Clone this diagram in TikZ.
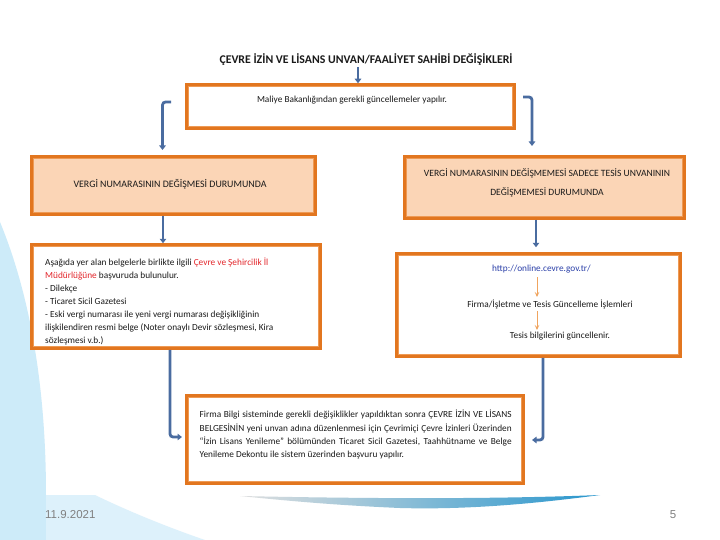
\documentclass[tikz,border=0pt]{standalone}
\usepackage{fontspec}
\setmainfont{Carlito}
\newfontfamily\footfont{Liberation Sans}
\usetikzlibrary{arrows.meta}
\definecolor{boxorange}{HTML}{E2761F}
\definecolor{innerorange}{HTML}{EE9A55}
\definecolor{peach}{HTML}{FBD5B6}
\definecolor{arrblue}{HTML}{4A6CA0}
\definecolor{smallorange}{HTML}{F0A45E}
\definecolor{redtext}{HTML}{E3262B}
\definecolor{linkblue}{HTML}{2A3FA8}
\definecolor{bgblue}{HTML}{CDEBF9}
\definecolor{bgbluelight}{HTML}{DDF1FB}
\definecolor{foot}{HTML}{808080}
\definecolor{txt}{HTML}{1A1A1A}
\begin{document}
\begin{tikzpicture}[x=1pt,y=-1pt,
  obox/.style={draw=boxorange, line width=2.5pt, fill=white, inner sep=0pt},
  innerframe/.style={draw=innerorange, line width=0.8pt},
  barrow/.style={draw=arrblue, line width=2.8pt, -{Triangle[width=6.5pt,length=4.5pt]}, rounded corners=3pt},
  sarrow/.style={draw=smallorange, line width=0.8pt, -{Stealth[width=4.5pt,length=5pt,inset=2pt]}},
  smalltxt/.style={font=\fontsize{9.3}{11}\selectfont, text=txt, inner sep=0pt},
]
\useasboundingbox (0,0) rectangle (720,540);
% background
\fill[white] (0,0) rectangle (720,540);
\fill[bgblue] (0,222) .. controls (28,290) and (46,380) .. (46,495) -- (46,540) -- (0,540) -- cycle;
\fill[bgbluelight] (46,495) -- (95,495) .. controls (130,512) and (170,528) .. (205,540) -- (46,540) -- cycle;
\shade[left color=gray!25, right color={rgb,255:red,40;green,150;blue,205}]
  (240,496) .. controls (380,499) and (500,499) .. (600,495)
  .. controls (540,503) and (470,510) .. (400,508)
  .. controls (330,505) and (280,500) .. (240,496) -- cycle;

% title
\node[font=\fontsize{11.8}{13}\selectfont\bfseries, text=txt, inner sep=0pt] (title) at (366,60)
  {ÇEVRE İZİN VE LİSANS UNVAN/FAALİYET SAHİBİ DEĞİŞİKLERİ};

% boxes
\node[obox, minimum width=328pt, minimum height=44pt] (top) at (350.5,106.5) {};
\draw[innerframe] ([shift={(3.5,3.5)}]top.north west) rectangle ([shift={(-3.5,-3.5)}]top.south east);
\node[smalltxt] (toptxt) at (352,100) {Maliye Bakanlığından gerekli güncellemeler yapılır.};

\node[obox, fill=peach, minimum width=284pt, minimum height=58pt] (lb2) at (173.5,185.5) {};
\draw[innerframe] ([shift={(3.5,3.5)}]lb2.north west) rectangle ([shift={(-3.5,-3.5)}]lb2.south east);
\node[smalltxt, font=\fontsize{9.9}{11}\selectfont] (lb2txt) at (170,184) {VERGİ NUMARASININ DEĞİŞMESİ DURUMUNDA};

\node[obox, fill=peach, minimum width=280pt, minimum height=62pt] (rb2) at (544.5,187.5) {};
\draw[innerframe] ([shift={(3.5,3.5)}]rb2.north west) rectangle ([shift={(-3.5,-3.5)}]rb2.south east);
\node[smalltxt, font=\fontsize{9.6}{19}\selectfont, align=center] (rb2txt) at (547,182.5)
  {VERGİ NUMARASININ DEĞİŞMEMESİ SADECE TESİS UNVANININ\\DEĞİŞMEMESİ DURUMUNDA};

\node[obox, minimum width=289pt, minimum height=104pt] (lb3) at (176,296.5) {};
\draw[innerframe] ([shift={(3.5,3.5)}]lb3.north west) rectangle ([shift={(-3.5,-3.5)}]lb3.south east);
\node[smalltxt, font=\fontsize{9.3}{13.1}\selectfont, align=left, anchor=north west] (lb3txt) at (45,257.5)
  {Aşağıda yer alan belgelerle birlikte ilgili \textcolor{redtext}{Çevre ve Şehircilik İl}\\
   \textcolor{redtext}{Müdürlüğüne} başvuruda bulunulur.\\
   - Dilekçe\\
   - Ticaret Sicil Gazetesi\\
   - Eski vergi numarası ile yeni vergi numarası değişikliğinin\\
   ilişkilendiren resmi belge (Noter onaylı Devir sözleşmesi, Kira\\
   sözleşmesi v.b.)};

\node[obox, minimum width=284pt, minimum height=103pt] (rb3) at (538.5,305) {};
\draw[innerframe] ([shift={(3.5,3.5)}]rb3.north west) rectangle ([shift={(-3.5,-3.5)}]rb3.south east);
\node[smalltxt, text=linkblue] (url) at (541.5,269.3) {http://online.cevre.gov.tr/};
\node[smalltxt] (firma) at (550,304) {Firma/İşletme ve Tesis Güncelleme İşlemleri};
\node[smalltxt] (tesis) at (560,336.5) {Tesis bilgilerini güncellenir.};
\coordinate (s1a) at (537,277);
\coordinate (s1b) at (537,297);
\coordinate (s2a) at (537,311);
\coordinate (s2b) at (537,330);
\draw[sarrow] (s1a) -- (s1b);
\draw[sarrow] (s2a) -- (s2b);

\node[obox, minimum width=337pt, minimum height=88pt] (bot) at (355,439.5) {};
\draw[innerframe] ([shift={(3.5,3.5)}]bot.north west) rectangle ([shift={(-3.5,-3.5)}]bot.south east);
\node[smalltxt, font=\fontsize{9.3}{13.4}\selectfont, align=left, anchor=north west] (bottxt) at (199.5,410)
  {\makebox[312pt][s]{Firma Bilgi sisteminde gerekli değişiklikler yapıldıktan sonra ÇEVRE İZİN VE LİSANS}\\
   \makebox[312pt][s]{BELGESİNİN yeni unvan adına düzenlenmesi için Çevrimiçi Çevre İzinleri Üzerinden}\\
   \makebox[312pt][s]{“İzin Lisans Yenileme” bölümünden Ticaret Sicil Gazetesi, Taahhütname ve Belge}\\
   Yenileme Dekontu ile sistem üzerinden başvuru yapılır.};

% connectors
\coordinate (t1) at (358,67);
\draw[barrow] (t1) -- (top.north -| t1);
\coordinate (e1a) at (171,102);
\coordinate (e1b) at (162.5,150);
\draw[barrow] (e1a) -| (e1b);
\coordinate (e2a) at (523,97);
\coordinate (e2b) at (532,146);
\draw[barrow] (e2a) -| (e2b);
\coordinate (v1) at (163,0);
\draw[barrow] (lb2.south -| v1) -- (lb3.north -| v1);
\coordinate (v2) at (536,0);
\draw[barrow, shorten >=5pt] (rb2.south -| v2) -- (rb3.north -| v2);
\coordinate (e3) at (182,437);
\coordinate (v3) at (170,0);
\draw[barrow] (lb3.south -| v3) |- (e3);
\coordinate (e4) at (532,440);
\coordinate (v4) at (543,0);
\draw[barrow] (rb3.south -| v4) |- (e4);

% footer
\node[font=\footfont\fontsize{11.5}{13}\selectfont, text=foot, inner sep=0pt, anchor=west] (date) at (45,515) {11.9.2021};
\node[font=\footfont\fontsize{11.5}{13}\selectfont, text=foot, inner sep=0pt] (page) at (673,515) {5};
\end{tikzpicture}
\end{document}
